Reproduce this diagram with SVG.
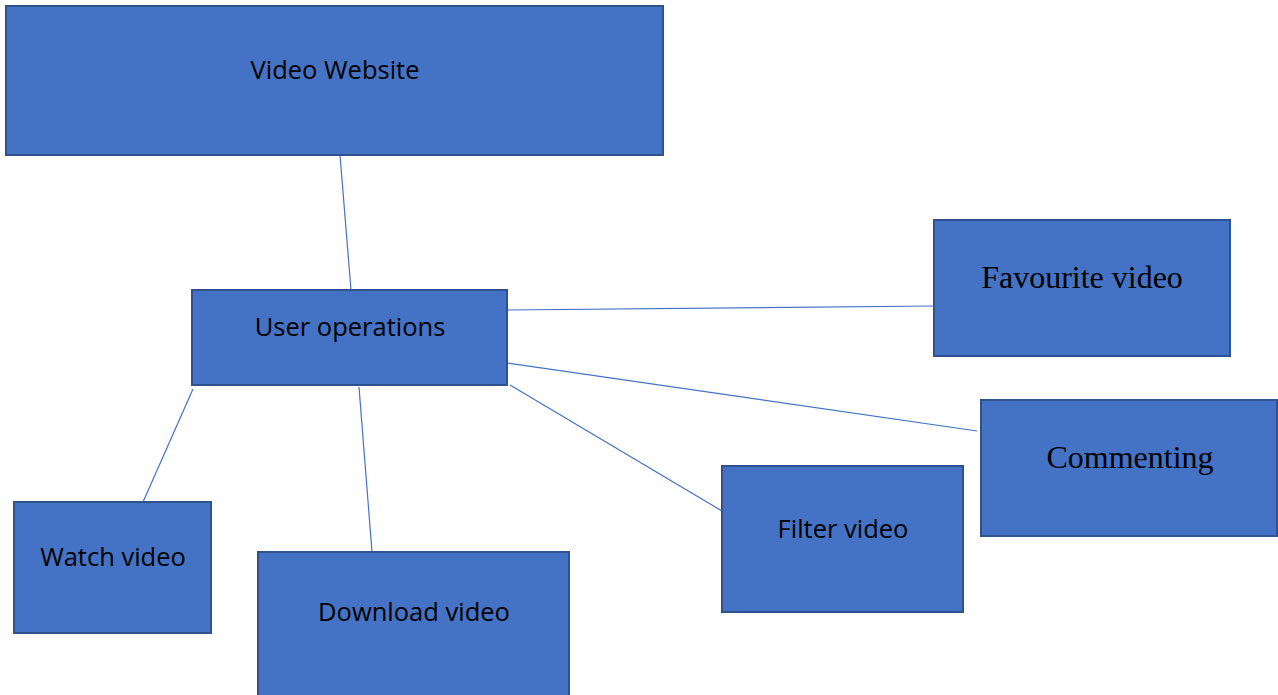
<svg xmlns="http://www.w3.org/2000/svg" width="1278" height="695" viewBox="0 0 1278 695">
<style>
.box{fill:#4472C4;stroke:#2F528F;stroke-width:2}
.sans{font-family:"Open Sans","Liberation Sans",sans-serif;font-size:25.5px;fill:#000;text-anchor:middle}
.serif{font-family:"Liberation Serif",serif;font-size:32px;fill:#000;text-anchor:middle}
.conn line{stroke:#4472C4;stroke-width:1.2}
</style>
<rect width="1278" height="695" fill="#fff"/>
<g class="conn" id="connectors">
<line x1="340" y1="155" x2="351" y2="290"/>
<line x1="507" y1="310" x2="934" y2="306"/>
<line x1="507" y1="363" x2="977" y2="431"/>
<line x1="510" y1="385" x2="722" y2="511"/>
<line x1="193" y1="389" x2="143" y2="502"/>
<line x1="359" y1="387" x2="372" y2="552"/>
</g>
<g id="video-website"><rect class="box" x="6" y="6" width="657" height="149"/><text class="sans" x="335" y="79">Video Website</text></g>
<g id="user-operations"><rect class="box" x="192" y="290" width="315" height="95"/><text class="sans" x="350" y="336">User operations</text></g>
<g id="favourite-video"><rect class="box" x="934" y="220" width="296" height="136"/><text class="serif" x="1082" y="288">Favourite video</text></g>
<g id="commenting"><rect class="box" x="981" y="400" width="296" height="136"/><text class="serif" x="1130" y="468">Commenting</text></g>
<g id="filter-video"><rect class="box" x="722" y="466" width="241" height="146"/><text class="sans" x="843" y="538">Filter video</text></g>
<g id="watch-video"><rect class="box" x="14" y="502" width="197" height="131"/><text class="sans" x="113" y="566">Watch video</text></g>
<g id="download-video"><rect class="box" x="258" y="552" width="311" height="145"/><text class="sans" x="414" y="621">Download video</text></g>
</svg>
